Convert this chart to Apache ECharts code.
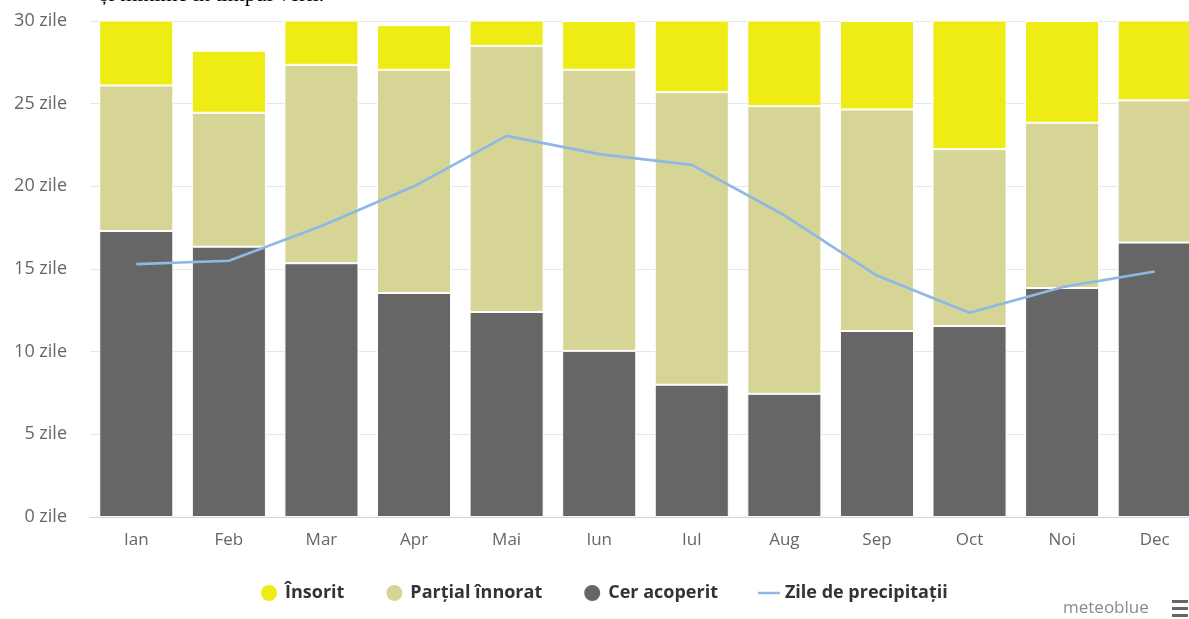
<!DOCTYPE html>
<html>
<head>
<meta charset="utf-8">
<script src="https://cdn.jsdelivr.net/npm/echarts@6/dist/echarts.min.js"></script>
<style>
html,body{margin:0;padding:0;background:#fff;overflow:hidden;width:1189px;height:619px;}
#chart{width:1201px;height:619px;}
</style>
</head>
<body>
<div id="chart"></div>
<script>
const months = ['Ian','Feb','Mar','Apr','Mai','Iun','Iul','Aug','Sep','Oct','Noi','Dec'];
const sunny = [4.9, 3.75, 3.65, 2.7, 2.5, 2.95, 5.3, 6.15, 5.35, 8.75, 6.15, 5.8];
const partly = [8.8, 8.1, 12.0, 13.5, 16.1, 17.0, 17.7, 17.4, 13.4, 10.7, 10.0, 8.6];
const overcast = [17.3, 16.35, 15.35, 13.55, 12.4, 10.05, 8.0, 7.45, 11.25, 11.55, 13.85, 16.6];
const precipDays = [15.3, 15.5, 17.6, 20.0, 23.05, 21.95, 21.3, 18.25, 14.6, 12.35, 13.9, 14.85];
const yTicks = [0, 5, 10, 15, 20, 25, 30];
const subtitleText = 'și minime în timpul verii.';

const chart = echarts.init(document.getElementById('chart'));
const font = '"Open Sans", "DejaVu Sans", sans-serif';
const barStyle = (c) => ({ color: c, borderColor: '#ffffff', borderWidth: 1 });

chart.setOption({
  animation: false,
  textStyle: { fontFamily: font },
  grid: { left: 90, right: 0, top: 21, bottom: 102, containLabel: false },
  legend: {
    left: 254,
    top: 578,
    itemWidth: 22,
    itemHeight: 18,
    itemGap: 40,
    textStyle: { fontSize: 18, fontWeight: 'bold', color: '#333333', fontFamily: font },
    data: [
      { name: 'Însorit', icon: 'circle' },
      { name: 'Parțial înnorat', icon: 'circle' },
      { name: 'Cer acoperit', icon: 'circle' },
      { name: 'Zile de precipitații', icon: 'path://M0,0 L22,0 L22,2.5 L0,2.5 Z' }
    ]
  },
  xAxis: {
    type: 'category',
    data: months,
    axisLine: { show: true, lineStyle: { color: '#ccd6eb', width: 1 } },
    axisTick: { show: false },
    axisLabel: { color: '#666666', fontSize: 17, margin: 15 },
    splitLine: { show: false }
  },
  yAxis: {
    type: 'value',
    min: 0,
    max: 30,
    interval: 5,
    axisLine: { show: false },
    axisTick: { show: false },
    axisLabel: {
      color: '#666666', fontSize: 18, margin: 23,
      formatter: (v) => yTicks.includes(v) ? v + ' zile' : ''
    },
    splitLine: { lineStyle: { color: '#e6e6e6', width: 1 } }
  },
  series: [
    { name: 'Cer acoperit', type: 'bar', stack: 'days', data: overcast, barCategoryGap: '20%', itemStyle: barStyle('#666666'), clip: true },
    { name: 'Parțial înnorat', type: 'bar', stack: 'days', data: partly, itemStyle: barStyle('#d6d595'), clip: true },
    { name: 'Însorit', type: 'bar', stack: 'days', data: sunny, itemStyle: barStyle('#efeb14'), clip: true },
    { name: 'Zile de precipitații', type: 'line', data: precipDays, symbol: 'none', showSymbol: false,
      lineStyle: { color: '#8fb8e6', width: 2.7 }, itemStyle: { color: '#8fb8e6' }, z: 5 }
  ],
  graphic: [
    { type: 'text', left: 100, top: -16, style: { text: subtitleText, fill: '#000', font: '22px "Liberation Serif", "DejaVu Serif", serif' } },
    { type: 'text', left: 1063, top: 600, style: { text: 'meteoblue', fill: '#8a8a8a', font: '17px ' + font } },
    { type: 'rect', left: 1172, top: 600, shape: { width: 16, height: 3 }, style: { fill: '#666' } },
    { type: 'rect', left: 1172, top: 607, shape: { width: 16, height: 3 }, style: { fill: '#666' } },
    { type: 'rect', left: 1172, top: 614, shape: { width: 16, height: 3 }, style: { fill: '#666' } }
  ]
});
</script>
</body>
</html>
